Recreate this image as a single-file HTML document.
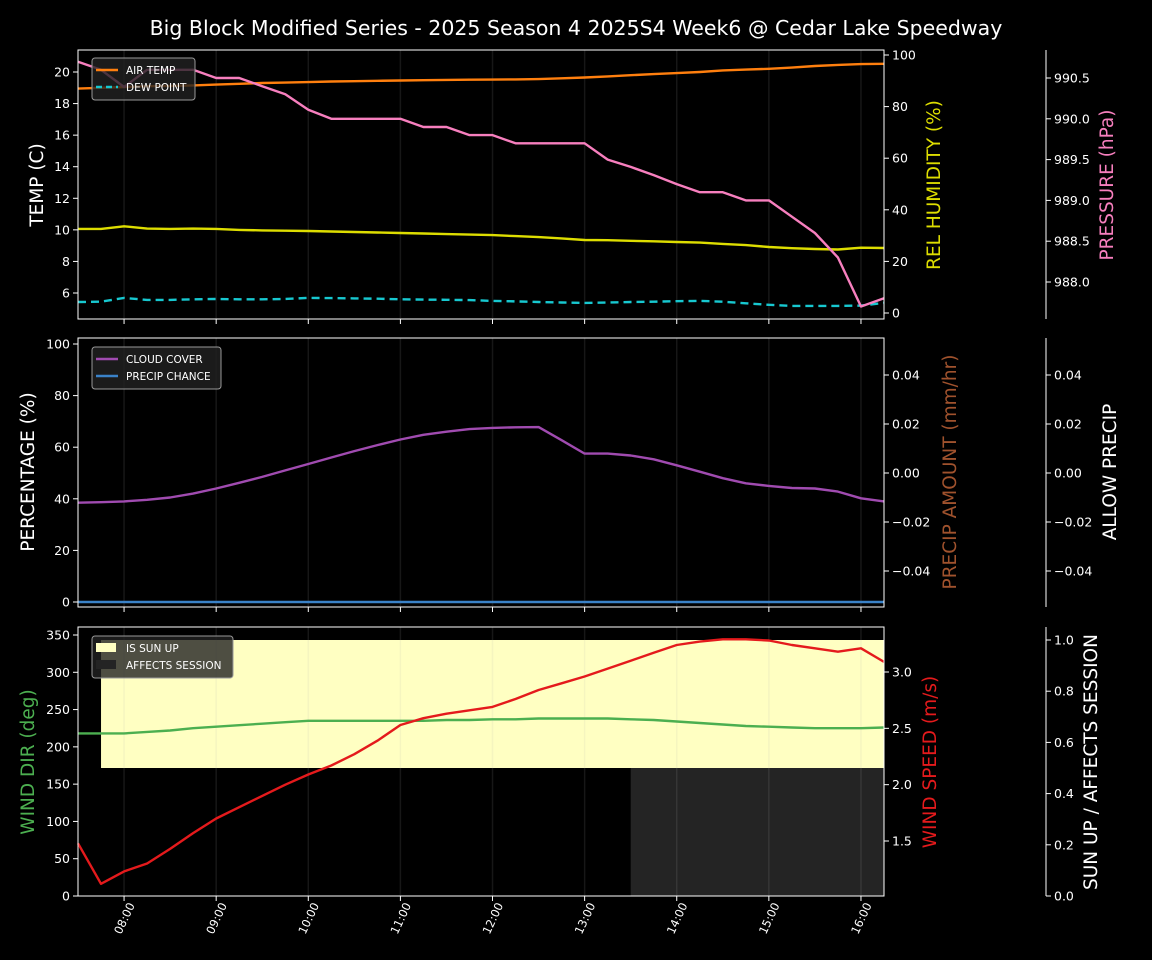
<!DOCTYPE html>
<html><head><meta charset="utf-8"><style>
body{margin:0;background:#000;}
svg{display:block;font-family:"DejaVu Sans","Liberation Sans",sans-serif;}
</style></head><body>
<svg id="c" width="1152" height="960" viewBox="0 0 1152 960" xmlns="http://www.w3.org/2000/svg">
<rect width="1152" height="960" fill="#000"/>
<text x="576" y="35" fill="#fff" font-size="20.5" text-anchor="middle">Big Block Modified Series - 2025 Season 4 2025S4 Week6 @ Cedar Lake Speedway</text>
</svg>
<script>
// times in hours, 15-min steps from 07:30
const times = [];
for (let i = 0; i < 36; i++) times.push(7.5 + i * 0.25);
const hourTicks = ["08:00","09:00","10:00","11:00","12:00","13:00","14:00","15:00","16:00"];
const airTemp = [18.95,19.0,19.05,19.1,19.12,19.15,19.2,19.25,19.3,19.33,19.36,19.4,19.42,19.44,19.46,19.48,19.5,19.51,19.52,19.53,19.55,19.6,19.65,19.72,19.8,19.87,19.93,20.0,20.1,20.15,20.2,20.28,20.38,20.45,20.5,20.52];
const dewPoint = [5.43,5.45,5.69,5.56,5.56,5.6,5.62,5.6,5.6,5.62,5.69,5.68,5.66,5.64,5.6,5.58,5.57,5.55,5.5,5.47,5.43,5.4,5.37,5.4,5.43,5.45,5.48,5.5,5.45,5.35,5.25,5.18,5.18,5.18,5.2,5.37];
const humidity = [32.6,32.6,33.6,32.7,32.6,32.7,32.6,32.2,32.0,31.9,31.8,31.6,31.4,31.2,31.0,30.8,30.6,30.4,30.2,29.8,29.4,28.9,28.3,28.2,28.0,27.8,27.5,27.3,26.8,26.3,25.6,25.1,24.8,24.6,25.3,25.2];
const pressure = [990.70,990.60,990.39,990.60,990.60,990.60,990.50,990.50,990.40,990.30,990.11,990.0,990.0,990.0,990.0,989.9,989.9,989.8,989.8,989.7,989.7,989.7,989.7,989.5,989.41,989.31,989.2,989.1,989.1,989.0,989.0,988.8,988.6,988.3,987.7,987.8];
const cloudCover = [38.5,38.7,39,39.6,40.5,42,44,46.2,48.5,51,53.5,56,58.5,60.8,63,64.8,66,67,67.5,67.7,67.8,62.7,57.5,57.5,56.8,55.3,53,50.5,48,46,45,44.2,44,42.8,40.2,39];
const precipChance = new Array(36).fill(0);
const windDir = [218,218,218,220,222,225,227,229,231,233,235,235,235,235,235,235,236,236,237,237,238,238,238,238,237,236,234,232,230,228,227,226,225,225,225,226];
const windSpeed = [1.48,1.12,1.23,1.30,1.43,1.57,1.70,1.80,1.90,2.00,2.09,2.17,2.27,2.39,2.53,2.59,2.63,2.66,2.69,2.76,2.84,2.90,2.96,3.03,3.10,3.17,3.24,3.27,3.29,3.29,3.28,3.24,3.21,3.18,3.21,3.09];
const sunBand = [7.75, 16.25, 0.5, 1.0];      // start, end, low, high
const sessionBand = [13.5, 16.25, 0.0, 0.5];

const svg = document.getElementById('c');
const NS = 'http://www.w3.org/2000/svg';
function mk(tag, attrs, parent) {
  const e = document.createElementNS(NS, tag);
  for (const k in attrs) e.setAttribute(k, attrs[k]);
  (parent || svg).appendChild(e);
  return e;
}
const X0 = 78, X1 = 884;
const x = t => X0 + (t - 7.5) / (16.25 - 7.5) * (X1 - X0);
function lin(v0, p0, v1, p1) { return v => p0 + (v - v0) / (v1 - v0) * (p1 - p0); }

function panel(top, bot, name) {
  const g = mk('g', {});
  
  
  hourTicks.forEach((h, i) => {
    const xx = x(8 + i);
    const l = mk('line', {x1: xx, x2: xx, y1: top, y2: bot, stroke: '#b0b0b0', 'stroke-width': 1.5, 'stroke-opacity': 0.13}, g);
    
    
  });
  return g;
}
function frame(top, bot) {
  const r = mk('rect', {x: X0, y: top, width: X1 - X0, height: bot - top, fill: 'none', stroke: '#fff', 'stroke-width': 1});
  
  
  hourTicks.forEach((h, i) => {
    mk('line', {x1: x(8 + i), x2: x(8 + i), y1: bot, y2: bot + 5, stroke: '#fff'});
  });
}
function axis(xpos, side, ticks, fmt, scale, top, bot, spine) {
  const g = mk('g', {});
  
  
  if (spine) mk('line', {x1: xpos, x2: xpos, y1: top, y2: bot, stroke: '#fff'}, g);
  ticks.forEach(v => {
    const yy = scale(v);
    const d = side === 'left' ? -5 : 5;
    mk('line', {x1: xpos, x2: xpos + d, y1: yy, y2: yy, stroke: '#fff'}, g);
    const t = mk('text', {x: side === 'left' ? xpos - 8 : xpos + 8, y: yy + 4.5, fill: '#fff', 'font-size': 12.5, 'text-anchor': side === 'left' ? 'end' : 'start'}, g);
    t.textContent = fmt(v).replace('-', '\u2212');
    
    
  });
}
function vlabel(xc, yc, parts, name) {
  const t = mk('text', {x: xc, y: yc, 'font-size': 18.5, 'text-anchor': 'middle', transform: `rotate(-90 ${xc} ${yc})`});
  
  
  parts.forEach(p => { const s = mk('tspan', {fill: p[1]}, t); s.textContent = p[0]; });
}
function line(vals, sx, color, name, dash) {
  const d = vals.map((v, i) => (i ? 'L' : 'M') + x(times[i]).toFixed(1) + ' ' + sx(v).toFixed(1)).join(' ');
  const p = mk('path', {d, fill: 'none', stroke: color, 'stroke-width': 2.4, 'stroke-linejoin': 'round'});
  if (dash) p.setAttribute('stroke-dasharray', dash);
  
  
}
function legend(lx, ly, w, items, name) {
  const g = mk('g', {});
  
  
  mk('rect', {x: lx, y: ly, width: w, height: 8 + items.length * 17, rx: 3, fill: '#222', 'fill-opacity': 0.8, stroke: '#999'}, g);
  items.forEach((it, i) => {
    const yy = ly + 12 + i * 17;
    if (it.patch) mk('rect', {x: lx + 4, y: yy - 5, width: 20, height: 9, fill: it.color}, g);
    else { const l = mk('line', {x1: lx + 4, x2: lx + 26, y1: yy, y2: yy, stroke: it.color, 'stroke-width': 2.4}, g); if (it.dash) l.setAttribute('stroke-dasharray', it.dash); }
    const t = mk('text', {x: lx + 34, y: yy + 4, fill: '#fff', 'font-size': 10.5}, g);
    t.textContent = it.label;
    
    
  });
}

// ---------- Panel 1 ----------
{
  const top = 50, bot = 319;
  panel(top, bot, 'temperature-panel');
  const sT = lin(20, 72, 6, 293), sH = lin(100, 55, 0, 313), sP = lin(990.5, 78, 988.0, 282);
  line(airTemp, sT, '#ff7f0e', 'air-temp-line');
  line(dewPoint, sT, '#17c8d0', 'dew-point-line', '8,5');
  line(humidity, sH, '#dddd00', 'humidity-line');
  line(pressure, sP, '#f77fbe', 'pressure-line');
  frame(top, bot);
  axis(X0, 'left', [6,8,10,12,14,16,18,20], v => String(v), sT, top, bot);
  axis(X1, 'right', [0,20,40,60,80,100], v => String(v), sH, top, bot);
  axis(1046, 'right', [988.0,988.5,989.0,989.5,990.0,990.5], v => v.toFixed(1), sP, top, bot, true);
  vlabel(43, 185, [['TEMP (C)', '#fff']], 'temp-axis-title');
  vlabel(940, 185, [['REL HUMIDITY (%)', '#dddd00']], 'humidity-axis-title');
  vlabel(1113, 185, [['PRESSURE (hPa)', '#f77fbe']], 'pressure-axis-title');
  legend(92, 58, 103, [{label: 'AIR TEMP', color: '#ff7f0e'}, {label: 'DEW POINT', color: '#17c8d0', dash: '6,4'}], 'temp-legend');
}
// ---------- Panel 2 ----------
{
  const top = 338, bot = 607;
  panel(top, bot, 'percentage-panel');
  const sPc = lin(100, 344, 0, 602), sA = lin(0.04, 375, -0.04, 571);
  line(cloudCover, sPc, '#a04bb0', 'cloud-cover-line');
  line(precipChance, sPc, '#3a82c8', 'precip-chance-line');
  frame(top, bot);
  axis(X0, 'left', [0,20,40,60,80,100], v => String(v), sPc, top, bot);
  axis(X1, 'right', [-0.04,-0.02,0,0.02,0.04], v => v.toFixed(2), sA, top, bot);
  axis(1046, 'right', [-0.04,-0.02,0,0.02,0.04], v => v.toFixed(2), sA, top, bot, true);
  vlabel(34, 472, [['PERCENTAGE (%)', '#fff']], 'percentage-axis-title');
  vlabel(956, 472, [['PRECIP AMOUNT (mm/hr)', '#a0522d']], 'precip-amount-axis-title');
  vlabel(1116, 472, [['ALLOW PRECIP', '#fff']], 'allow-precip-axis-title');
  legend(92, 347, 129, [{label: 'CLOUD COVER', color: '#a04bb0'}, {label: 'PRECIP CHANCE', color: '#3a82c8'}], 'cloud-legend');
}
// ---------- Panel 3 ----------
{
  const top = 627, bot = 896;
  const sS = lin(1, 640, 0, 896);
  const b1 = mk('rect', {x: x(sunBand[0]), y: sS(sunBand[3]), width: x(sunBand[1]) - x(sunBand[0]), height: sS(sunBand[2]) - sS(sunBand[3]), fill: '#ffffc2'});
  
  
  const b2 = mk('rect', {x: x(sessionBand[0]), y: sS(sessionBand[3]), width: x(sessionBand[1]) - x(sessionBand[0]), height: sS(sessionBand[2]) - sS(sessionBand[3]), fill: '#242424'});
  
  
  panel(top, bot, 'wind-panel');
  const sD = lin(350, 635, 0, 896), sW = lin(3.0, 672, 1.5, 841);
  line(windDir, sD, '#4caf50', 'wind-dir-line');
  line(windSpeed, sW, '#e41a1c', 'wind-speed-line');
  frame(top, bot);
  axis(X0, 'left', [0,50,100,150,200,250,300,350], v => String(v), sD, top, bot);
  axis(X1, 'right', [1.5,2.0,2.5,3.0], v => v.toFixed(1), sW, top, bot);
  axis(1046, 'right', [0,0.2,0.4,0.6,0.8,1.0], v => v.toFixed(1), sS, top, bot, true);
  vlabel(34, 762, [['WIND DIR (deg)', '#4caf50']], 'wind-dir-axis-title');
  vlabel(936, 762, [['WIND SPEED ', '#e41a1c'], ['(m/s)', '#e41a1c']], 'wind-speed-axis-title');
  vlabel(1097, 762, [['SUN UP / AFFECTS SESSION', '#fff']], 'sun-axis-title');
  legend(92, 636, 141, [{label: 'IS SUN UP', color: '#ffffc2', patch: true}, {label: 'AFFECTS SESSION', color: '#242424', patch: true}], 'sun-legend');
  hourTicks.forEach((h, i) => {
    const xx = x(8 + i), yy = 920;
    const t = mk('text', {x: xx + 4, y: yy, fill: '#fff', 'font-size': 11.5, 'text-anchor': 'middle', transform: `rotate(-65 ${xx + 4} ${yy})`});
    t.textContent = h;
    
    
  });
}
</script>
</body></html>
